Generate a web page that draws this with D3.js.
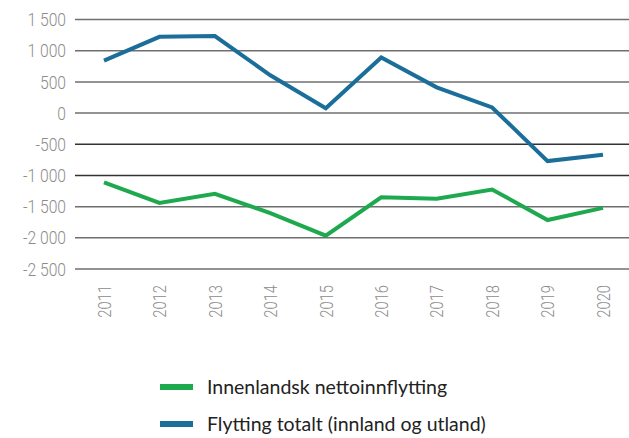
<!DOCTYPE html>
<html>
<head>
<meta charset="utf-8">
<script src="https://cdn.jsdelivr.net/npm/d3@7"></script>
<style>
  body { margin: 0; background: #fff; }
  svg { display: block; }
  .tick text { fill: #8c8c8c; }
</style>
</head>
<body>
<div id="chart"></div>
<script>
// ---------- DATA ---------- //
const years = ["2011", "2012", "2013", "2014", "2015", "2016", "2017", "2018", "2019", "2020"];
const innenlandsk = [-1110, -1440, -1295, -1605, -1965, -1350, -1375, -1225, -1715, -1520];
const totalt = [840, 1222, 1235, 605, 78, 890, 412, 90, -770, -670];
const yTicks = [1500, 1000, 500, 0, -500, -1000, -1500, -2000, -2500];
const seriesNames = ["Innenlandsk nettoinnflytting", "Flytting totalt (innland og utland)"];
const colors = ["#1fa94f", "#1b6e99"];

const axisFont = "Roboto, sans-serif";

// ---------- SETUP ---------- //
const W = 629, H = 438;
const svg = d3.select("#chart").append("svg")
  .attr("width", W)
  .attr("height", H);

const x = d3.scalePoint()
  .domain(years)
  .range([104, 603]);

const y = d3.scaleLinear()
  .domain([-2500, 1500])
  .range([269, 19.5]);

// gridlines
svg.append("g")
  .selectAll("line")
  .data(yTicks)
  .enter()
  .append("line")
  .attr("x1", 75)
  .attr("x2", W)
  .attr("y1", d => y(d))
  .attr("y2", d => y(d))
  .attr("stroke", d => d === -500 || d === -1000 ? "#333" : "#6f6f6f")
  .attr("stroke-width", 1.5);

// y axis labels (narrowed to look like the condensed original)
const yAxis = d3.axisLeft(y)
  .tickValues(yTicks)
  .tickSize(0)
  .tickPadding(0)
  .tickFormat(d => d3.format(",")(d).replace(/,/g, " ").replace("−", "-"));

svg.append("g")
  .attr("transform", "translate(66,0)")
  .call(yAxis)
  .call(g => g.select(".domain").remove())
  .selectAll("text")
  .style("font-family", axisFont)
  .style("font-weight", "300")
  .style("font-size", "18px")
  .attr("x", 0)
  .attr("dy", "0.34em")
  .attr("transform", "scale(0.87,1)");

// x axis labels (rotated)
const xAxis = d3.axisBottom(x).tickSize(0).tickPadding(0);
svg.append("g")
  .attr("transform", "translate(0,285)")
  .call(xAxis)
  .call(g => g.select(".domain").remove())
  .selectAll("text")
  .style("font-family", axisFont)
  .style("font-weight", "300")
  .style("font-size", "18px")
  .attr("text-anchor", "end")
  .attr("transform", "rotate(-90) scale(0.82,1)")
  .attr("x", 0)
  .attr("y", 0)
  .attr("dy", "0.35em");

// lines
const line = d3.line()
  .x((d, i) => x(years[i]))
  .y(d => y(d));

[innenlandsk, totalt].forEach((s, i) => {
  svg.append("path")
    .datum(s)
    .attr("fill", "none")
    .attr("stroke", colors[i])
    .attr("stroke-width", 4)
    .attr("d", line);
});

// legend
const legend = svg.append("g").attr("class", "legend");
seriesNames.forEach((name, i) => {
  const ly = 387 + i * 37;
  legend.append("rect")
    .attr("x", 160)
    .attr("y", ly - 3)
    .attr("width", 33)
    .attr("height", 6)
    .attr("fill", colors[i]);
  legend.append("text")
    .attr("x", 207)
    .attr("y", ly)
    .attr("dy", "0.35em")
    .attr("fill", "#222")
    .style("font-family", "Lato, sans-serif")
    .style("font-size", "19.5px")
    .text(name);
});
</script>
</body>
</html>
